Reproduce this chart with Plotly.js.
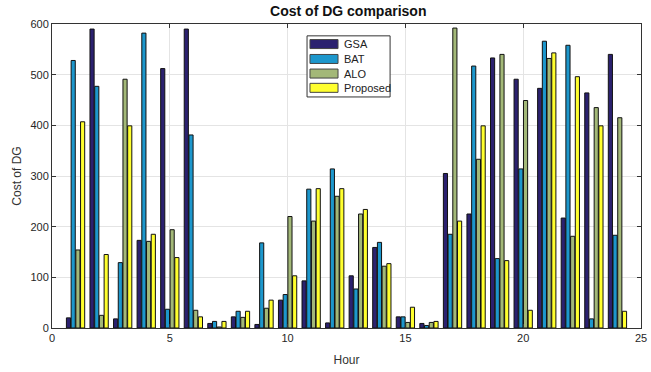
<!DOCTYPE html>
<html><head><meta charset="utf-8">
<script src="https://cdn.plot.ly/plotly-3.0.1.min.js"></script>
<style>html,body{margin:0;padding:0;background:#fff}#chart{width:651px;height:372px}</style>
</head><body><div id="chart"></div>
<script>
const hours = [1,2,3,4,5,6,7,8,9,10,11,12,13,14,15,16,17,18,19,20,21,22,23,24];
const gsa = [20,590,18,173,512,590,9,22,7,55,93,10,103,159,22,9,305,225,533,491,473,217,464,540];
const bat = [528,477,129,582,37,381,13,33,168,66,274,314,77,169,22,5,185,517,137,314,566,558,18,183];
const alo = [154,25,491,171,194,35,2,21,39,220,211,260,225,122,11,11,592,333,540,449,532,181,435,415];
const proposed = [407,145,399,185,139,22,13,33,55,103,275,275,234,127,41,13,211,399,133,35,543,496,399,33];
const names = ['GSA','BAT','ALO','Proposed'];
const colors = ['#2b216f','#1d97cc','#a3b878','#ffff2e'];
const series = [gsa, bat, alo, proposed];
const traces = series.map((s,i)=>({type:'bar', x:hours, y:s, name:names[i], showlegend:false,
  marker:{color:colors[i], line:{color:'#111', width:1}}}));
const axBase = {showline:true, linecolor:'#333', linewidth:1, mirror:'ticks', ticks:'inside', ticklen:4,
  tickcolor:'#333', showgrid:true, gridcolor:'#e4e4e4', zeroline:false,
  tickfont:{family:'Liberation Sans, Arial', size:11, color:'#262626'}};
// custom legend (MATLAB-style wide patches)
const lgRows = [0.934, 0.885, 0.837, 0.790];
const shapes = [{type:'rect', xref:'paper', yref:'paper', x0:0.433, x1:0.574, y0:0.760, y1:0.961,
  fillcolor:'#fff', line:{color:'#333', width:1}, layer:'above'}];
const annotations = [];
names.forEach((n,i)=>{
  shapes.push({type:'rect', xref:'paper', yref:'paper', x0:0.438, x1:0.4856, y0:lgRows[i]-0.0148, y1:lgRows[i]+0.0148,
    fillcolor:colors[i], line:{color:'#444', width:1}, layer:'above'});
  annotations.push({xref:'paper', yref:'paper', x:0.4924, y:lgRows[i], xanchor:'left', yanchor:'middle',
    text:n, showarrow:false, font:{family:'Liberation Sans, Arial', size:11, color:'#222'}});
});
const layout = {
  width:651, height:372, paper_bgcolor:'#fff', plot_bgcolor:'#fff',
  margin:{l:52, r:10, t:24, b:44},
  title:{text:'<b>Cost of DG comparison</b>', font:{family:'Liberation Sans, Arial', size:14, color:'#111'}, x:0.535, xanchor:'center', y:0.982, yanchor:'top'},
  barmode:'group', bargap:0.2, bargroupgap:0.12,
  xaxis:Object.assign({}, axBase, {range:[0,25], tickvals:[0,5,10,15,20,25],
    title:{text:'Hour', font:{family:'Liberation Sans, Arial', size:12, color:'#333'}, standoff:12}}),
  yaxis:Object.assign({}, axBase, {range:[0,600], tickvals:[0,100,200,300,400,500,600],
    title:{text:'Cost of DG', font:{family:'Liberation Sans, Arial', size:12, color:'#333'}, standoff:6}}),
  showlegend:false, shapes:shapes, annotations:annotations
};
Plotly.newPlot('chart', traces, layout, {displayModeBar:false});
</script></body></html>
